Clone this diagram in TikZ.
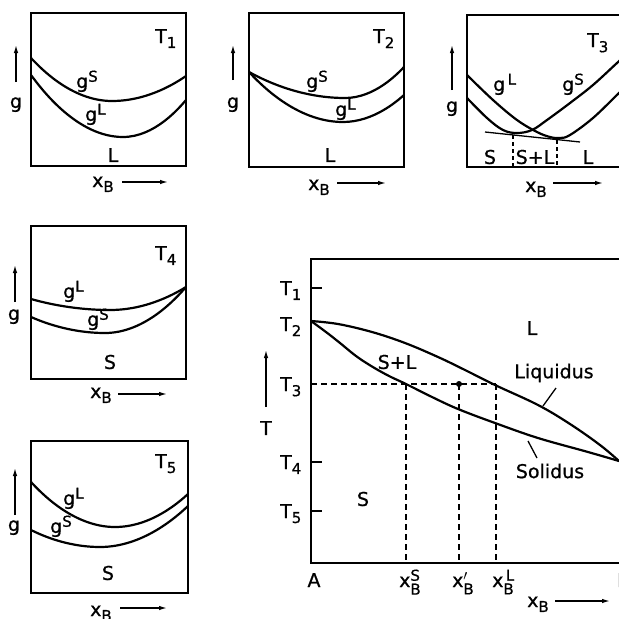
\documentclass[tikz,border=0pt]{standalone}
\usepackage{fontspec}
\usepackage{amsmath}
\setmainfont[FakeBold=0.8]{DejaVu Sans}
\DeclareMathSizes{19}{19}{15}{12}
\usetikzlibrary{arrows.meta}
\begin{document}
\begin{tikzpicture}[x=1pt,y=-1pt,
  frame/.style={line width=1.6pt},
  curve/.style={line width=2.2pt},
  thinl/.style={line width=1.3pt},
  dashline/.style={line width=1.4pt, dash pattern=on 6pt off 4pt},
  axarrow/.style={line width=1.3pt, -{Latex[length=8pt,width=4.5pt]}},
  lbl/.style={inner sep=0pt, font=\fontsize{19}{22}\selectfont},
  tick/.style={line width=1.5pt}]
\useasboundingbox (0,0) rectangle (619,619);

% ---------- Panel T1 ----------
\draw[frame] (31,13) rectangle (186,166);
\draw[curve] (31,58) parabola bend (112,101) (186,76);
\draw[curve] (31,75) parabola bend (123,137) (186,100);
\node[lbl,anchor=base west] (t1) at (155,43) {$\text{T}_{\text{1}}$};
\node[lbl,anchor=base west] (gs1) at (76,88) {$\text{g}^{\text{S}}$};
\node[lbl,anchor=base west] (gl1) at (85,121) {$\text{g}^{\text{L}}$};
\node[lbl] (l1) at (113,155) {L};
\coordinate (ga1s) at (16,82); \coordinate (ga1e) at (16,45);
\draw[axarrow] (ga1s) -- (ga1e);
\node[lbl,anchor=base] (g1) at (16,108) {g};
\node[lbl,anchor=base west] (xb1) at (92,187) {$\text{x}_{\text{B}}$};
\coordinate (xa1s) at (122,182); \coordinate (xa1e) at (168,182);
\draw[axarrow] (xa1s) -- (xa1e);

% ---------- Panel T2 ----------
\draw[frame] (249,13) rectangle (404,167);
\draw[curve] (249,72) parabola bend (345,98) (404,67);
\draw[curve] (249,72) parabola bend (343,122) (404,95);
\node[lbl,anchor=base west] (t2) at (373,43) {$\text{T}_{\text{2}}$};
\node[lbl,anchor=base west] (gs2) at (306,88) {$\text{g}^{\text{S}}$};
\node[lbl,anchor=base west] (gl2) at (335,116) {$\text{g}^{\text{L}}$};
\node[lbl] (l2) at (330,155) {L};
\coordinate (ga2s) at (233,80); \coordinate (ga2e) at (233,45);
\draw[axarrow] (ga2s) -- (ga2e);
\node[lbl,anchor=base] (g2) at (233,108) {g};
\node[lbl,anchor=base west] (xb2) at (308,190) {$\text{x}_{\text{B}}$};
\coordinate (xa2s) at (337,183); \coordinate (xa2e) at (386,183);
\draw[axarrow] (xa2s) -- (xa2e);

% ---------- Panel T3 ----------
\draw[frame] (467,15) rectangle (625,167);
\draw[curve] plot[smooth,tension=0.6] coordinates {(467,75) (493,100) (517,120) (537,132) (550,137) (560,138) (570,135) (593,118) (619,93) (625,88)};
\draw[curve] plot[smooth,tension=0.6] coordinates {(467,98) (487,118) (503,130) (517,133) (532,130) (547,120) (570,103) (593,85) (617,63) (625,56)};
\coordinate (tg1) at (485,132); \coordinate (tg2) at (580,142);
\draw[thinl] (tg1) -- (tg2);
\coordinate (d1t) at (513,135); \coordinate (d1b) at (513,167);
\coordinate (d2t) at (557,140); \coordinate (d2b) at (557,167);
\draw[thinl,dash pattern=on 4pt off 3pt] (d1t) -- (d1b);
\draw[thinl,dash pattern=on 4pt off 3pt] (d2t) -- (d2b);
\node[lbl,anchor=base west] (t3) at (587,47) {$\text{T}_{\text{3}}$};
\node[lbl,anchor=base west] (gl3) at (493,91) {$\text{g}^{\,\text{L}}$};
\node[lbl,anchor=base west] (gs3) at (562,91) {$\text{g}^{\text{S}}$};
\node[lbl] (s3) at (490,157) {S};
\node[lbl] (sl3) at (535,157) {S+L};
\node[lbl] (l3) at (588,157) {L};
\coordinate (ga3s) at (452,90); \coordinate (ga3e) at (452,45);
\draw[axarrow] (ga3s) -- (ga3e);
\node[lbl,anchor=base] (g3) at (452,112) {g};
\node[lbl,anchor=base west] (xb3) at (525,192) {$\text{x}_{\text{B}}$};
\coordinate (xa3s) at (553,183); \coordinate (xa3e) at (603,183);
\draw[axarrow] (xa3s) -- (xa3e);

% ---------- Panel T4 ----------
\draw[frame] (31,226) rectangle (186,379);
\draw[curve] (31,299) parabola bend (110,310) (186,287);
\draw[curve] (31,317) parabola bend (105,333) (186,287);
\node[lbl,anchor=base west] (t4) at (155,260) {$\text{T}_{\text{4}}$};
\node[lbl,anchor=base west] (gl4) at (63,298) {$\text{g}^{\text{L}}$};
\node[lbl,anchor=base west] (gs4) at (87,326) {$\text{g}^{\text{S}}$};
\node[lbl] (s4) at (110,362) {S};
\coordinate (ga4s) at (15,302); \coordinate (ga4e) at (15,265);
\draw[axarrow] (ga4s) -- (ga4e);
\node[lbl,anchor=base] (g4) at (14,320) {g};
\node[lbl,anchor=base west] (xb4) at (90,398) {$\text{x}_{\text{B}}$};
\coordinate (xa4s) at (118,394); \coordinate (xa4e) at (167,394);
\draw[axarrow] (xa4s) -- (xa4e);

% ---------- Panel T5 ----------
\draw[frame] (31,441) rectangle (188,593);
\draw[curve] (31,482) parabola bend (115,527) (188,494);
\draw[curve] (31,530) parabola bend (100,547) (188,506);
\node[lbl,anchor=base west] (t5) at (155,468) {$\text{T}_{\text{5}}$};
\node[lbl,anchor=base west] (gl5) at (63,505) {$\text{g}^{\text{L}}$};
\node[lbl,anchor=base west] (gs5) at (50,533) {$\text{g}^{\text{S}}$};
\node[lbl] (s5) at (108,573) {S};
\coordinate (ga5s) at (15,515); \coordinate (ga5e) at (15,468);
\draw[axarrow] (ga5s) -- (ga5e);
\node[lbl,anchor=base] (g5) at (14,531) {g};
\node[lbl,anchor=base west] (xb5) at (90,616) {$\text{x}_{\text{B}}$};
\coordinate (xa5s) at (120,608); \coordinate (xa5e) at (167,608);
\draw[axarrow] (xa5s) -- (xa5e);

% ---------- Main phase diagram ----------
\draw[frame] (625,259) -- (311,259) -- (311,563) -- (625,563);
\draw[tick] (311,288) -- (322,288);
\draw[tick] (311,462) -- (322,462);
\draw[tick] (311,511) -- (322,511);
\draw[curve] plot[smooth,tension=0.6] coordinates {(311,321) (338,324) (372,332) (405,343) (438,357) (465,370) (495,385) (538,405) (570,424) (600,445) (619,461)};
\draw[curve] plot[smooth,tension=0.6] coordinates {(311,321) (326,332) (340,343) (356,356) (372,366.5) (389,376) (406,384) (432,397) (458,409) (495,423) (538,438) (588,452) (619,461)};
\coordinate (h0) at (311,384); \coordinate (hS) at (406,384); \coordinate (hP) at (459,384); \coordinate (hL) at (496,384);
\coordinate (bS) at (406,563); \coordinate (bP) at (459,563); \coordinate (bL) at (496,563);
\draw[dashline] (h0) -- (hL);
\draw[dashline] (hS) -- (bS);
\draw[dashline] (hP) -- (bP);
\draw[dashline] (hL) -- (bL);
\fill (hP) circle (3pt);

\node[lbl,anchor=base east] (mt1) at (302,295) {$\text{T}_{\text{1}}$};
\node[lbl,anchor=base east] (mt2) at (302,331) {$\text{T}_{\text{2}}$};
\node[lbl,anchor=base east] (mt3) at (302,391) {$\text{T}_{\text{3}}$};
\node[lbl,anchor=base east] (mt4) at (302,469) {$\text{T}_{\text{4}}$};
\node[lbl,anchor=base east] (mt5) at (302,518) {$\text{T}_{\text{5}}$};
\coordinate (tas) at (266,407); \coordinate (tae) at (266,350);
\draw[axarrow] (tas) -- (tae);
\node[lbl] (mT) at (266,428) {T};

\node[lbl] (mL) at (532,328) {L};
\node[lbl] (mSL) at (397,362) {S+L};
\node[lbl] (mS) at (363,499) {S};
\node[lbl] (liq) at (554,373) {Liquidus};
\node[lbl] (sol) at (550,471) {Solidus};
\coordinate (liqa) at (556,388); \coordinate (liqb) at (543,406);
\draw[thinl] (liqa) -- (liqb);
\coordinate (sola) at (537,458); \coordinate (solb) at (528,441);
\draw[thinl] (sola) -- (solb);

\node[lbl,anchor=base] (mA) at (314,587) {A};
\node[lbl,anchor=base west] (mB) at (617,587) {B};
\node[lbl,anchor=base west] (xs) at (399,587) {$\text{x}^{\text{S}}_{\text{B}}$};
\node[lbl,anchor=base west] (xp) at (452,587) {$\text{x}'_{\text{B}}$};
\node[lbl,anchor=base west] (xl) at (492,587) {$\text{x}^{\,\text{L}}_{\text{B}}$};
\node[lbl,anchor=base west] (xax) at (527,607) {$\text{x}_{\text{B}}$};
\coordinate (xms) at (555,601); \coordinate (xme) at (610,601);
\draw[axarrow] (xms) -- (xme);
\end{tikzpicture}
\end{document}
